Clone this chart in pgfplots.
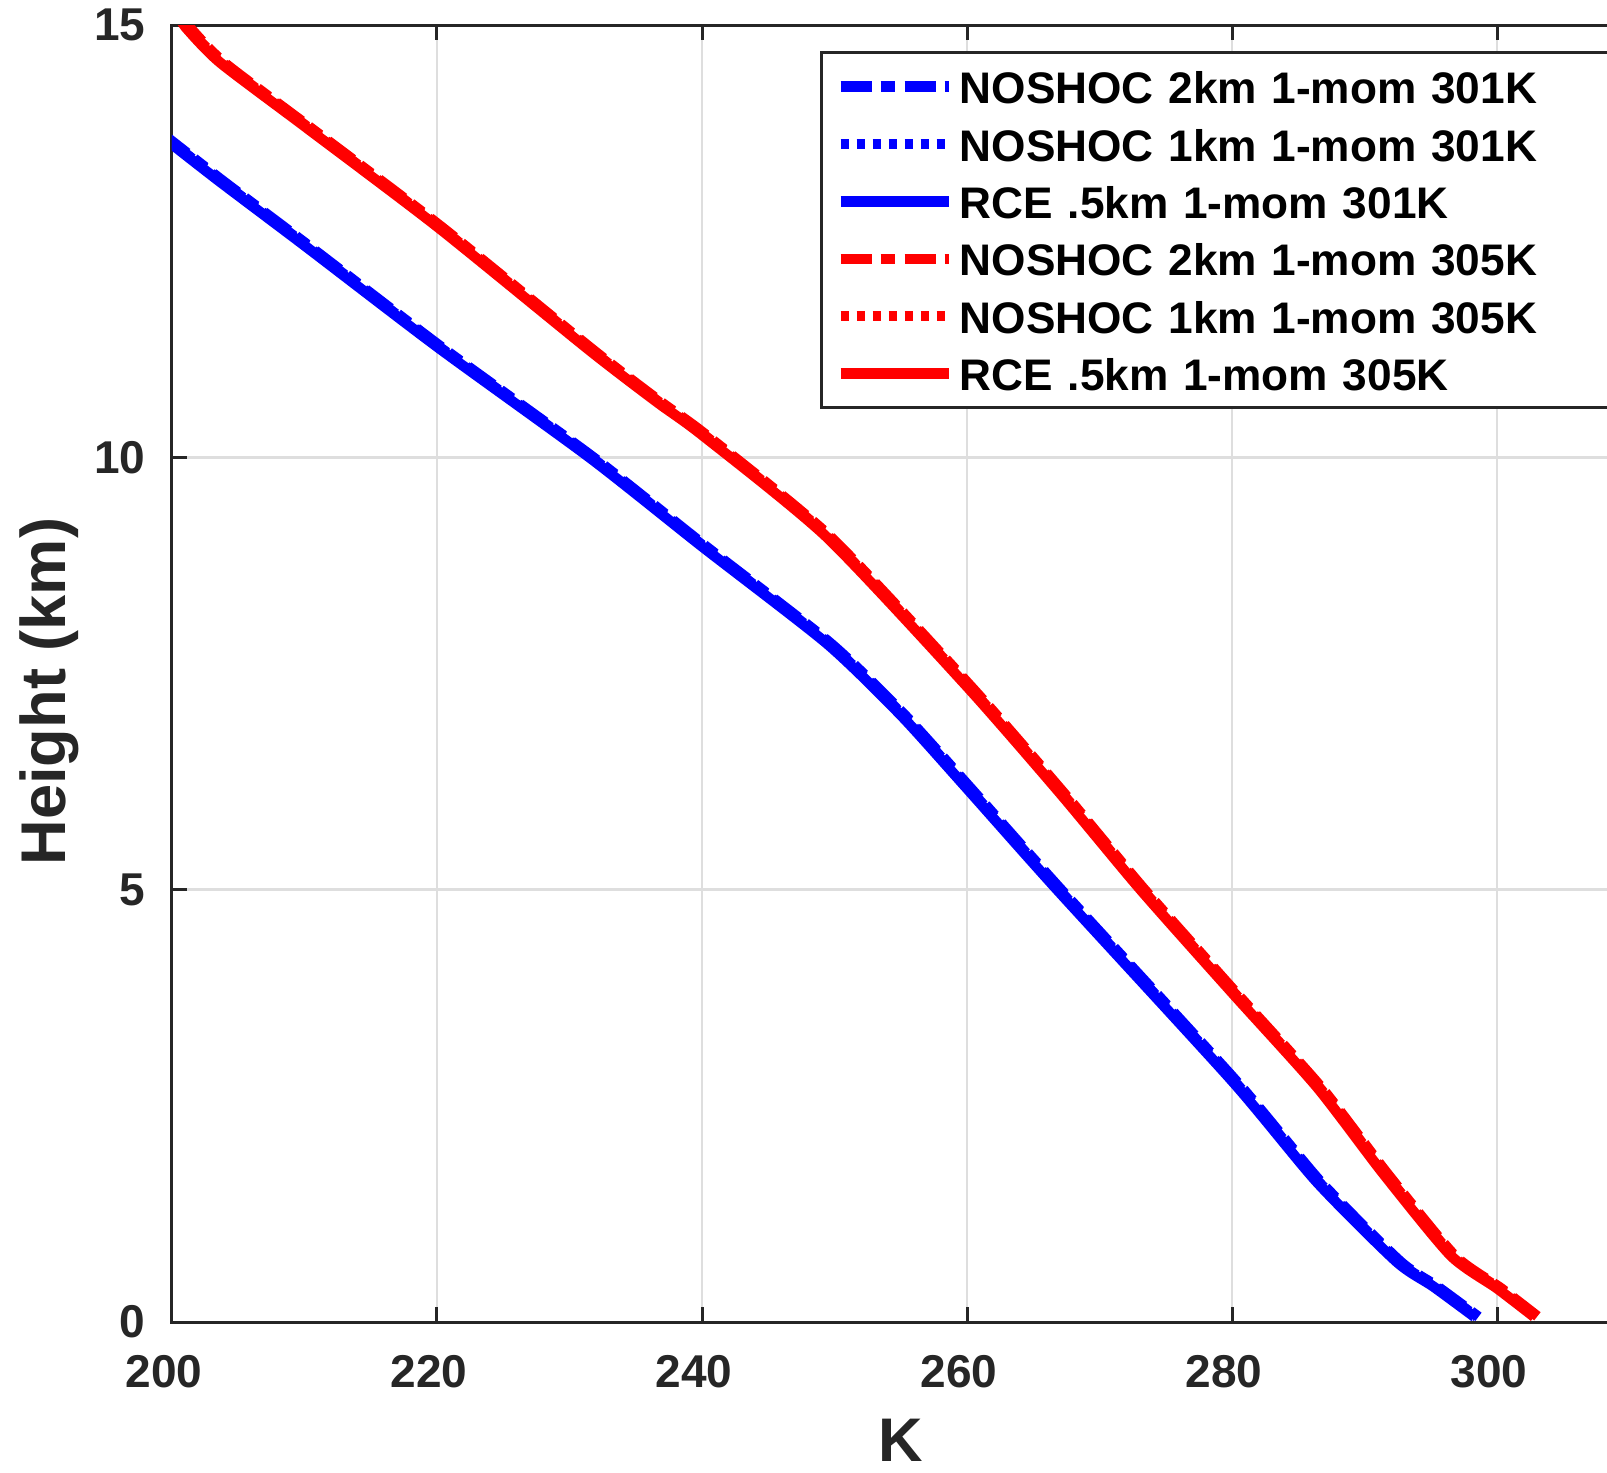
\documentclass[border=0pt]{standalone}
\usepackage{fontspec}
\setmainfont{Liberation Sans}
\usepackage{pgfplots}
\pgfplotsset{compat=1.18}
\definecolor{axgray}{RGB}{38,38,38}
\definecolor{gridgray}{RGB}{222,222,222}
\definecolor{mblue}{RGB}{0,0,255}
\definecolor{mred}{RGB}{255,0,0}
\pgfplotstableread{
T z
199.3 13.74
200.3 13.62
203.9 13.19
210.3 12.45
220.3 11.28
231.8 10.00
240.3 8.97
249.7 7.85
255.3 7.02
260.3 6.17
267.1 5.00
280.3 2.79
286.7 1.62
292.7 0.70
295.5 0.41
298.6 0.06
}\bluedash
\pgfplotstableread{
T z
199.15 13.74
200.15 13.62
203.75 13.19
210.15 12.45
220.15 11.28
231.65 10.00
240.15 8.97
249.55 7.85
255.15 7.02
260.15 6.17
266.95 5.00
280.15 2.79
286.55 1.62
292.55 0.70
295.35 0.41
298.45 0.06
}\bluedot
\pgfplotstableread{
T z
199.0 13.74
200.0 13.62
203.6 13.19
210.0 12.45
220.0 11.28
231.5 10.00
240.0 8.97
249.4 7.85
255.0 7.02
260.0 6.17
266.8 5.00
280.0 2.79
286.4 1.62
292.4 0.70
295.2 0.41
298.3 0.06
}\bluesolid
\pgfplotstableread{
T z
200.9 15.10
201.3 14.98
203.9 14.57
210.3 13.83
220.3 12.67
231.8 11.24
236.9 10.64
240.3 10.26
249.7 9.08
260.3 7.35
267.3 6.12
273.4 5.00
280.3 3.81
286.7 2.72
291.7 1.72
296.8 0.77
300.3 0.39
303.1 0.06
}\reddash
\pgfplotstableread{
T z
200.75 15.10
201.15 14.98
203.75 14.57
210.15 13.83
220.15 12.67
231.65 11.24
236.75 10.64
240.15 10.26
249.55 9.08
260.15 7.35
267.15 6.12
273.25 5.00
280.15 3.81
286.55 2.72
291.55 1.72
296.65 0.77
300.15 0.39
302.95 0.06
}\reddot
\pgfplotstableread{
T z
200.6 15.10
201.0 14.98
203.6 14.57
210.0 13.83
220.0 12.67
231.5 11.24
236.6 10.64
240.0 10.26
249.4 9.08
260.0 7.35
267.0 6.12
273.1 5.00
280.0 3.81
286.4 2.72
291.4 1.72
296.5 0.77
300.0 0.39
302.8 0.06
}\redsolid
\begin{document}
\begin{tikzpicture}
\useasboundingbox (-43pt,-37.5pt) rectangle (358.75pt,330.5pt);
\clip (-43pt,-37.5pt) rectangle (358.75pt,330.5pt);
\begin{axis}[
  at={(0,0)}, anchor=south west,
  scale only axis, width=364.375pt, height=324.25pt,
  xmin=200, xmax=310, ymin=0, ymax=15,
  xtick={200,220,240,260,280,300}, ytick={0,5,10,15},
  tick align=inside, major tick length=3.75pt,
  grid=major, major grid style={color=gridgray, line width=0.6pt},
  axis line style={color=axgray, line width=0.75pt},
  every tick/.style={color=axgray, line width=0.75pt},
  /pgf/number format/assume math mode=true,
  ticklabel style={font=\bfseries\fontsize{11.5}{13}\selectfont, text=axgray},
  xticklabel style={anchor=north, inner sep=0pt, yshift=-8.25pt, xshift=-2pt},
  yticklabel style={anchor=east, inner sep=0pt, xshift=-6.5pt},
  xlabel={K}, ylabel={Height (km)},
  xlabel style={at={(axis description cs:0.5,0)}, anchor=base, yshift=-34.75pt, inner sep=0pt,
    font=\bfseries\fontsize{15.4}{18}\selectfont, text=axgray},
  ylabel style={at={(axis description cs:0,0.486)}, anchor=base, yshift=26.5pt, inner sep=0pt,
    font=\bfseries\fontsize{15.8}{18}\selectfont, text=axgray},
  title={Temperature (mean state)},
  title style={at={(axis description cs:0.5,1)}, anchor=base, yshift=6.5pt, xshift=-3.5pt, inner sep=0pt,
    font=\bfseries\fontsize{15.5}{18}\selectfont, text=black},
  legend cell align=left,
  legend image code/.code={\draw[#1] (0pt,0pt) -- (27pt,0pt);},
  legend style={at={(axis cs:248.9,14.70)}, anchor=north west, draw=axgray, line width=0.75pt,
    fill=white, inner xsep=3.5pt, inner ysep=4.3pt, row sep=5.85pt, column sep=0pt,
    font=\bfseries\fontsize{11.05}{13}\selectfont, text=black,
    nodes={inner xsep=1.5pt, inner ysep=0pt, text height=8.5pt, text depth=0pt, text width=180pt, align=left}},
  every axis plot/.append style={line width=2.6pt, smooth, tension=0.4, line join=round},
]
\addplot[mblue, dash pattern=on 7.75pt off 2.25pt on 3.5pt off 2.5pt] table[x=T,y=z] {\bluedash};
\addlegendentry{NOSHOC 2km 1-mom 301K}
\addplot[mblue, dash pattern=on 2pt off 2pt] table[x=T,y=z] {\bluedot};
\addlegendentry{NOSHOC 1km 1-mom 301K}
\addplot[mblue] table[x=T,y=z] {\bluesolid};
\addlegendentry{RCE .5km 1-mom 301K}
\addplot[mred, dash pattern=on 7.75pt off 2.25pt on 3.5pt off 2.5pt] table[x=T,y=z] {\reddash};
\addlegendentry{NOSHOC 2km 1-mom 305K}
\addplot[mred, dash pattern=on 2pt off 2pt] table[x=T,y=z] {\reddot};
\addlegendentry{NOSHOC 1km 1-mom 305K}
\addplot[mred] table[x=T,y=z] {\redsolid};
\addlegendentry{RCE .5km 1-mom 305K}
\end{axis}
\end{tikzpicture}
\end{document}
